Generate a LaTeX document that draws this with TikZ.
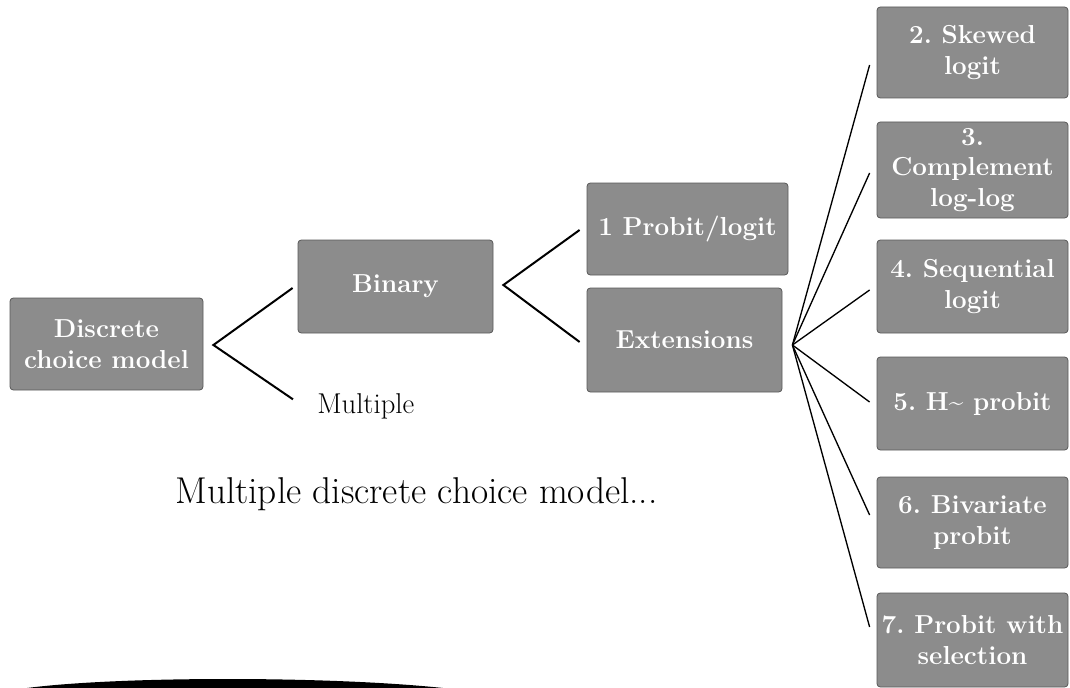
\documentclass[tikz,border=0pt]{standalone}
\usetikzlibrary{calc}
\begin{document}
\frenchspacing
\begin{tikzpicture}[x=0.75pt,y=-0.75pt,
  bx/.style={draw=black!65, line width=0.6pt, fill=black!45, rounded corners=2.5pt,
    text=white, align=center, inner sep=2pt,
    font=\fontsize{19.5}{23}\selectfont\bfseries},
  conn/.style={line width=1.5pt, black},
  fan/.style={line width=1pt, black}]
\useasboundingbox (0,0) rectangle (1070,688);

% nodes
\node[bx, minimum width=144.75pt, minimum height=69pt] (dcm) at (106.5,344) {Discrete\\choice model};
\node[bx, minimum width=146.25pt, minimum height=69.75pt] (bin) at (395.5,286.5) {Binary};
\node[bx, minimum width=150.75pt, minimum height=69pt] (pl) at (687.5,229) {1 Probit/logit};
\node[bx, minimum width=146.25pt, minimum height=78pt] (ext) at (684.5,340) {Extensions};
\node[bx, minimum width=143.25pt, minimum height=68.25pt] (b2) at (972.5,52.5) {2. Skewed\\logit};
\node[bx, minimum width=143.25pt, minimum height=72pt] (b3) at (972.5,170) {3.\\Complement\\log-log};
\node[bx, minimum width=143.25pt, minimum height=69.75pt] (b4) at (972.5,286.5) {4. Sequential\\logit};
\node[bx, minimum width=143.25pt, minimum height=69.75pt] (b5) at (972.5,403.5) {5. H\textasciitilde{} probit};
\node[bx, minimum width=143.25pt, minimum height=68.25pt] (b6) at (972.5,522.5) {6. Bivariate\\probit};
\node[bx, minimum width=143.25pt, minimum height=70.5pt] (b7) at (972.5,640) {7. Probit with\\selection};

\node[anchor=base west, inner sep=0pt, font=\fontsize{21.5}{25}\selectfont] (mult) at (317,413) {Multiple};
\node[anchor=base west, inner sep=0pt, font=\fontsize{28}{32}\selectfont] (mdcm) at (175,503) {Multiple discrete choice model...};

% vertices
\coordinate (v1) at ($(dcm.east)+(10,1)$);
\coordinate (v2) at ($(bin.east)+(10,-1.5)$);
\coordinate (v3) at ($(ext.east)+(10,5)$);

% connectors
\draw[conn] ($(bin.west)+(-5,1.5)$) -- (v1) -- ($(mult.west)+(-24,-6.5)$);
\draw[conn] ($(pl.west)+(-7,1)$) -- (v2) -- ($(ext.west)+(-7,2)$);
\draw[fan] (v3) -- ($(b2.west)+(-7,12.5)$);
\draw[fan] (v3) -- ($(b3.west)+(-7,3)$);
\draw[fan] (v3) -- ($(b4.west)+(-7,3.5)$);
\draw[fan] (v3) -- ($(b5.west)+(-7,-1.5)$);
\draw[fan] (v3) -- ($(b6.west)+(-7,-7.5)$);
\draw[fan] (v3) -- ($(b7.west)+(-7,-13)$);

% bottom black bar
\fill[black] (27,688) .. controls (120,676) and (330,676) .. (443,688) -- cycle;
\end{tikzpicture}
\end{document}
